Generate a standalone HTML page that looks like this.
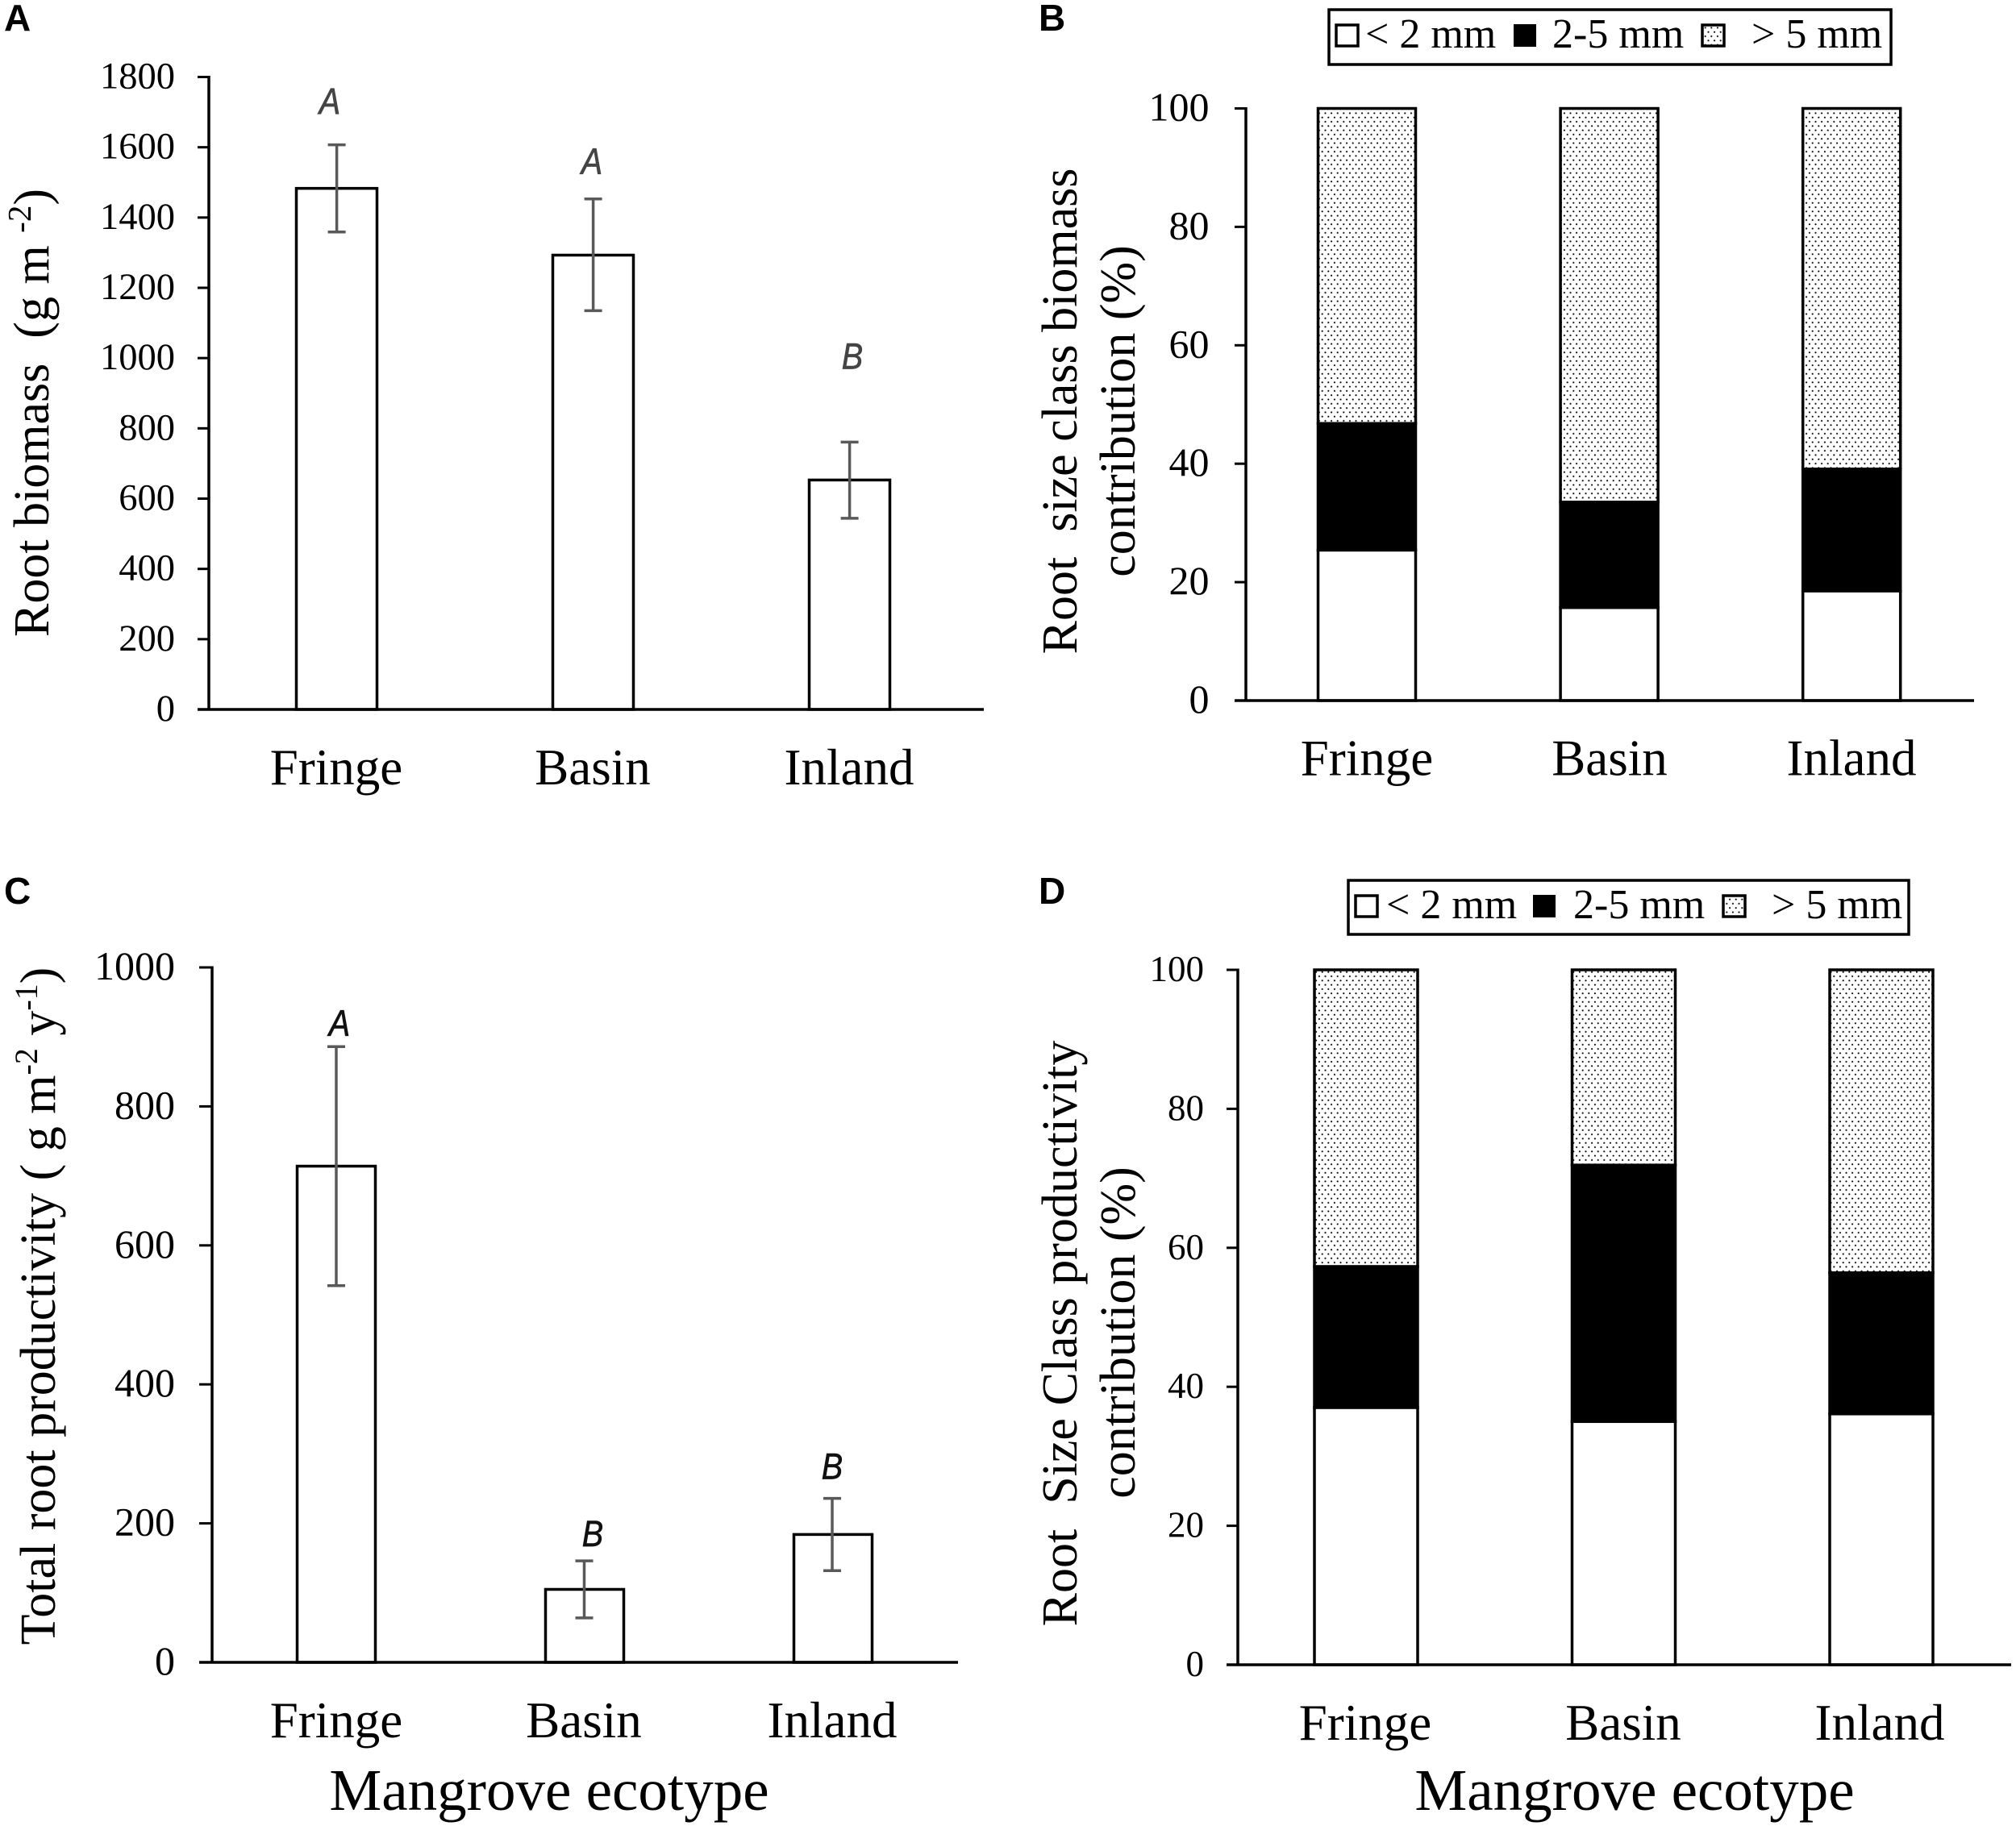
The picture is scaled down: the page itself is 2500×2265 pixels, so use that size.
<!DOCTYPE html>
<html><head><meta charset="utf-8"><title>Mangrove root biomass and productivity</title>
<style>
html,body{margin:0;padding:0;background:#fff}
svg{display:block}
text{font-family:"Liberation Serif",serif;fill:#000;white-space:pre}
.pl{font-family:"Liberation Sans",sans-serif;font-weight:bold;font-size:46px}
.leg{font-size:52px}
.yt{font-size:62px}
.xt{font-size:73px}
</style></head>
<body>
<svg id="fig" xmlns="http://www.w3.org/2000/svg" width="2500" height="2265" viewBox="0 0 2500 2265">
<defs><pattern id="dots" patternUnits="userSpaceOnUse" width="7.6" height="10.6"><rect width="7.6" height="10.6" fill="#fff"/><circle cx="1.9" cy="2.6" r="1.05" fill="#000"/><circle cx="5.7" cy="7.9" r="1.05" fill="#000"/></pattern></defs>
<rect width="2500" height="2265" fill="#fff"/>
<text class="pl" x="5" y="38">A</text>
<text class="pl" x="1288" y="38">B</text>
<text class="pl" x="5" y="1121">C</text>
<text class="pl" x="1288" y="1121">D</text>

<text font-size="62" transform="translate(60 512) rotate(-90)" text-anchor="middle">Root biomass  (g m <tspan font-size="41" dy="-22">-2</tspan><tspan dy="22">)</tspan></text>
<text class="yt" transform="translate(1335 510) rotate(-90)" text-anchor="middle">Root  size class biomass</text>
<text class="yt" transform="translate(1407 510) rotate(-90)" text-anchor="middle">contribution (%)</text>
<text class="yt" transform="translate(68 1620) rotate(-90)" text-anchor="middle">Total root productivity ( g m<tspan font-size="40" dy="-22">-2</tspan><tspan dy="22"> y</tspan><tspan font-size="40" dy="-22">-1</tspan><tspan dy="22">)</tspan></text>
<text class="yt" transform="translate(1335 1654) rotate(-90)" text-anchor="middle">Root  Size Class productivity</text>
<text class="yt" transform="translate(1407 1653) rotate(-90)" text-anchor="middle">contribution (%)</text>
<text class="xt" x="681" y="2245" text-anchor="middle">Mangrove ecotype</text>
<text class="xt" x="2027" y="2245" text-anchor="middle">Mangrove ecotype</text>

<g>
<rect x="1648" y="12" width="697" height="68" fill="#fff" stroke="#000" stroke-width="3.5"/>
<rect x="1657" y="31" width="27" height="26" fill="#fff" stroke="#000" stroke-width="3.5"/>
<text class="leg" x="1693" y="59">&lt; 2 mm</text>
<rect x="1877" y="30" width="28" height="28" fill="#000"/>
<text class="leg" x="1925" y="59">2-5 mm</text>
<rect x="2111" y="31" width="27" height="26" fill="url(#dots)" stroke="#000" stroke-width="3.5"/>
<text class="leg" x="2172" y="59">&gt; 5 mm</text>
</g>
<g>
<rect x="1672" y="1092" width="695" height="67" fill="#fff" stroke="#000" stroke-width="3.5"/>
<rect x="1681" y="1111" width="27" height="26" fill="#fff" stroke="#000" stroke-width="3.5"/>
<text class="leg" x="1719" y="1139">&lt; 2 mm</text>
<rect x="1901" y="1110" width="28" height="28" fill="#000"/>
<text class="leg" x="1951" y="1139">2-5 mm</text>
<rect x="2137" y="1111" width="27" height="26" fill="url(#dots)" stroke="#000" stroke-width="3.5"/>
<text class="leg" x="2197" y="1139">&gt; 5 mm</text>
</g>
</svg>
<script>
const categories = ['Fringe', 'Basin', 'Inland'];

const ticksA = [0, 200, 400, 600, 800, 1000, 1200, 1400, 1600, 1800];
const biomassMeans = [1483, 1293, 653];
const biomassErrHigh = [1607, 1453, 761];
const biomassErrLow = [1359, 1135, 544];
const biomassLetters = ['A', 'A', 'B'];
const biomassLetterHeights = [1696, 1525, 969];

const ticksB = [0, 20, 40, 60, 80, 100];
const biomassSmall = [25.4, 15.7, 18.5];
const biomassMedium = [21.4, 17.8, 20.6];
const biomassLarge = [53.2, 66.5, 60.9];

const ticksC = [0, 200, 400, 600, 800, 1000];
const prodMeans = [714, 105, 184];
const prodErrHigh = [886, 146, 236];
const prodErrLow = [542, 64, 132];
const prodLetters = ['A', 'B', 'B'];
const prodLetterHeights = [902, 167, 264];

const ticksD = [0, 20, 40, 60, 80, 100];
const prodSmall = [37, 35, 36.1];
const prodMedium = [20.3, 36.9, 20.3];
const prodLarge = [42.7, 28.1, 43.6];

const svg = document.getElementById('fig');
const NS = 'http://www.w3.org/2000/svg';

function mk(tag, attrs, name) {
  const node = document.createElementNS(NS, tag);
  for (const k in attrs) node.setAttribute(k, attrs[k]);
  
  
  svg.appendChild(node);
  return node;
}
function line(x1, y1, x2, y2, stroke, w, name) {
  return mk('line', {x1, y1, x2, y2, stroke, 'stroke-width': w}, name);
}
function label(str, x, y, size, anchor, name, extra) {
  const t = mk('text', Object.assign({x, y, 'font-size': size, 'text-anchor': anchor}, extra || {}), name);
  t.textContent = str;
  return t;
}
function drawAxes(p, ticks) {
  line(p.left, p.y(ticks[ticks.length - 1]) - 1.5, p.left, p.y(0), '#000', 3.5, p.id + '-y-axis');
  line(p.tickLeft, p.y(0), p.right, p.y(0), '#000', 3.5, p.id + '-x-axis');
  ticks.forEach(v => {
    line(p.tickLeft, p.y(v), p.left, p.y(v), '#000', 3, p.id + '-y-tick-' + v);
    label(String(v), p.labelRight, p.y(v) + p.tickShift, p.tickSize, 'end', p.id + '-y-tick-label-' + v);
  });
  categories.forEach((c, i) => {
    label(c, p.catX(i), p.catY, 63, 'middle', p.id + '-x-label-' + c.toLowerCase());
  });
}
function drawMeanBars(p, means, hi, lo, letters, heights, letterColor) {
  means.forEach((v, i) => {
    const c = p.x(i);
    const name = p.id + '-bar-' + categories[i].toLowerCase();
    mk('rect', {x: c - p.bw / 2, y: p.y(v), width: p.bw, height: p.y(0) - p.y(v), fill: '#fff', stroke: '#000', 'stroke-width': 3.5}, name);
    const e = p.errX(i);
    line(e, p.y(hi[i]), e, p.y(lo[i]), '#595959', 3.5, name + '-error-bar');
    line(e - 11, p.y(hi[i]), e + 11, p.y(hi[i]), '#595959', 3.5, name + '-error-cap-high');
    line(e - 11, p.y(lo[i]), e + 11, p.y(lo[i]), '#595959', 3.5, name + '-error-cap-low');
    label(letters[i], 0, 0, 45, 'middle', name + '-significance-letter',
      {transform: 'translate(' + p.letterX(i) + ' ' + p.y(heights[i]) + ') scale(0.88 1)',
       style: 'font-family:"Liberation Sans",sans-serif;font-style:italic;stroke-width:0.7;stroke:' + letterColor + ';fill:' + letterColor});
  });
}
function drawStacks(p, small, medium, large) {
  categories.forEach((c, i) => {
    const slug = p.id + '-bar-' + c.toLowerCase();
    const s0 = 0, s1 = small[i], s2 = small[i] + medium[i], s3 = s2 + large[i];
    const seg = (a, b, fill, suffix) => mk('rect', {x: p.x(i) - p.bw / 2, y: p.y(b), width: p.bw, height: p.y(a) - p.y(b), fill, stroke: '#000', 'stroke-width': 3.5}, slug + suffix);
    seg(s2, s3, 'url(#dots)', '-large');
    seg(s1, s2, '#000', '-medium');
    seg(s0, s1, '#fff', '-small');
  });
}

const panelA = {id: 'panel-a', left: 259, tickLeft: 245, right: 1220, labelRight: 217, tickSize: 46.5, tickShift: 14, bw: 100, catY: 973,
  y: v => 880 - v / 1800 * 784.5, x: i => 417.5 + i * 318, errX: i => 417.6 + i * 318, catX: i => [417, 735, 1053][i], letterX: i => [409, 734, 1057][i]};
const panelB = {id: 'panel-b', left: 1545, tickLeft: 1531, right: 2448, labelRight: 1499.5, tickSize: 50, tickShift: 15, bw: 121, catY: 961.5,
  y: v => 869 - v / 100 * 734.5, x: i => 1695 + i * 300.6, catX: i => [1695, 1996, 2296][i]};
const panelC = {id: 'panel-c', left: 263, tickLeft: 247, right: 1188, labelRight: 217, tickSize: 50, tickShift: 15, bw: 97, catY: 2155,
  y: v => 2062 - v / 1000 * 862, x: i => 417 + i * 308, errX: i => 417 + i * 307.5, catX: i => [417, 724, 1032][i], letterX: i => [421, 735, 1032][i]};
const panelD = {id: 'panel-d', left: 1535, tickLeft: 1521, right: 2494, labelRight: 1493, tickSize: 45, tickShift: 14, bw: 128, catY: 2158,
  y: v => 2065 - v / 100 * 862, x: i => 1694 + i * 319.5, catX: i => [1693, 2013, 2331][i]};

drawMeanBars(panelA, biomassMeans, biomassErrHigh, biomassErrLow, biomassLetters, biomassLetterHeights, '#444');
drawAxes(panelA, ticksA);
drawStacks(panelB, biomassSmall, biomassMedium, biomassLarge);
drawAxes(panelB, ticksB);
drawMeanBars(panelC, prodMeans, prodErrHigh, prodErrLow, prodLetters, prodLetterHeights, '#111');
drawAxes(panelC, ticksC);
drawStacks(panelD, prodSmall, prodMedium, prodLarge);
drawAxes(panelD, ticksD);
</script>
</body></html>
